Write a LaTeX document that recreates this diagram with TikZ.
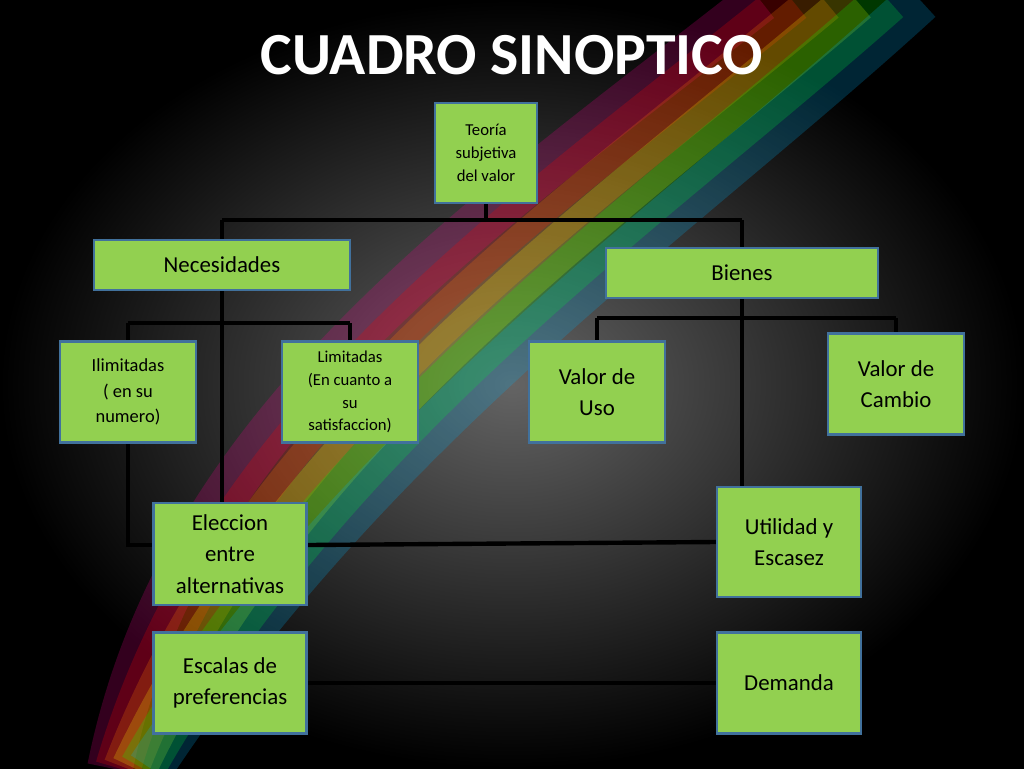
\documentclass[tikz,border=0pt]{standalone}
\usepackage{fontspec}
\setmainfont{Carlito}
\usetikzlibrary{backgrounds}
\definecolor{boxgreen}{RGB}{146,208,80}
\definecolor{boxline}{RGB}{65,113,156}
\definecolor{slidegray}{RGB}{100,100,100}
\tikzset{
  box/.style={draw=boxline, line width=1.2pt, fill=boxgreen, rectangle, align=center, inner sep=2pt},
  link/.style={line width=2.5pt, black}
}
\begin{document}
\begin{tikzpicture}[x=0.02cm, y=-0.02cm]
\useasboundingbox (0,0) rectangle (1024,768);
\node[font=\bfseries\fontsize{34}{38}\selectfont, text=white] (title) at (512,55) {CUADRO SINOPTICO};

\node[box, minimum width=102*0.02cm, minimum height=100*0.02cm, font=\fontsize{9.5}{13}\selectfont] (teoria) at (486,153) {Teoría\\subjetiva\\del valor};
\node[box, minimum width=256*0.02cm, minimum height=50*0.02cm, font=\fontsize{13}{16}\selectfont] (necesidades) at (222,265) {Necesidades};
\node[box, minimum width=272*0.02cm, minimum height=50*0.02cm, font=\fontsize{13}{16}\selectfont] (bienes) at (742,273) {Bienes};
\node[box, minimum width=136*0.02cm, minimum height=101*0.02cm, font=\fontsize{10.5}{14.5}\selectfont] (ilimitadas) at (128,392) {Ilimitadas\\( en su\\numero)};
\node[box, minimum width=136*0.02cm, minimum height=101*0.02cm, font=\fontsize{9.5}{13}\selectfont] (limitadas) at (350,392) {Limitadas\\(En cuanto a\\su\\satisfaccion)};
\node[box, minimum width=136*0.02cm, minimum height=101*0.02cm, font=\fontsize{13}{18}\selectfont] (uso) at (597,392) {Valor de\\Uso};
\node[box, minimum width=136*0.02cm, minimum height=101*0.02cm, font=\fontsize{13}{18}\selectfont] (cambio) at (896,384) {Valor de\\Cambio};
\node[box, minimum width=153*0.02cm, minimum height=102*0.02cm, font=\fontsize{13}{18}\selectfont] (eleccion) at (230,554) {Eleccion\\entre\\alternativas};
\node[box, minimum width=144*0.02cm, minimum height=110*0.02cm, font=\fontsize{13}{18}\selectfont] (utilidad) at (789,542) {Utilidad y\\Escasez};
\node[box, minimum width=153*0.02cm, minimum height=101*0.02cm, font=\fontsize{13}{18}\selectfont] (escalas) at (230,683) {Escalas de\\preferencias};
\node[box, minimum width=144*0.02cm, minimum height=101*0.02cm, font=\fontsize{13}{18}\selectfont] (demanda) at (789,683) {Demanda};

\begin{scope}[on background layer]
% background
\fill[black] (0,0) rectangle (1024,768);
\shade[inner color=slidegray, outer color=black] (0,0) rectangle (1024,768);
% swirl
\begin{scope}
\clip (0,0) rectangle (1024,768);
\foreach \c/\o in {magenta/0, red/40, orange/80, yellow/120, green/160, cyan/200}
  \draw[\c, line width=26pt, opacity=0.22] (110+\o*0.2,768) .. controls (180+\o,420) and (480+\o,220) .. (760+\o*0.8,0);
\end{scope}
% connectors
\draw[link] (teoria.south) -- (486,220);
\draw[link] (222,220) -- (742,220);
\draw[link] (222,220) -- (necesidades.north);
\draw[link] (742,220) -- (bienes.north);
\draw[link] (necesidades.south -| 222,0) -- (eleccion.north -| 222,0);
\draw[link] (128,323) -- (350,323);
\draw[link] (128,323) -- (ilimitadas.north);
\draw[link] (350,323) -- (limitadas.north);
\draw[link] (ilimitadas.south) -- (128,545) -- (eleccion.west |- 0,545);
\draw[link] (eleccion.east |- 0,545) -- (utilidad.west |- 0,542);
\draw[link] (597,318) -- (896,318);
\draw[link] (597,318) -- (uso.north);
\draw[link] (896,318) -- (cambio.north);
\draw[link] (bienes.south) -- (bienes.south |- utilidad.north);
\draw[link] (escalas.east) -- (demanda.west);
\end{scope}
\end{tikzpicture}
\end{document}
